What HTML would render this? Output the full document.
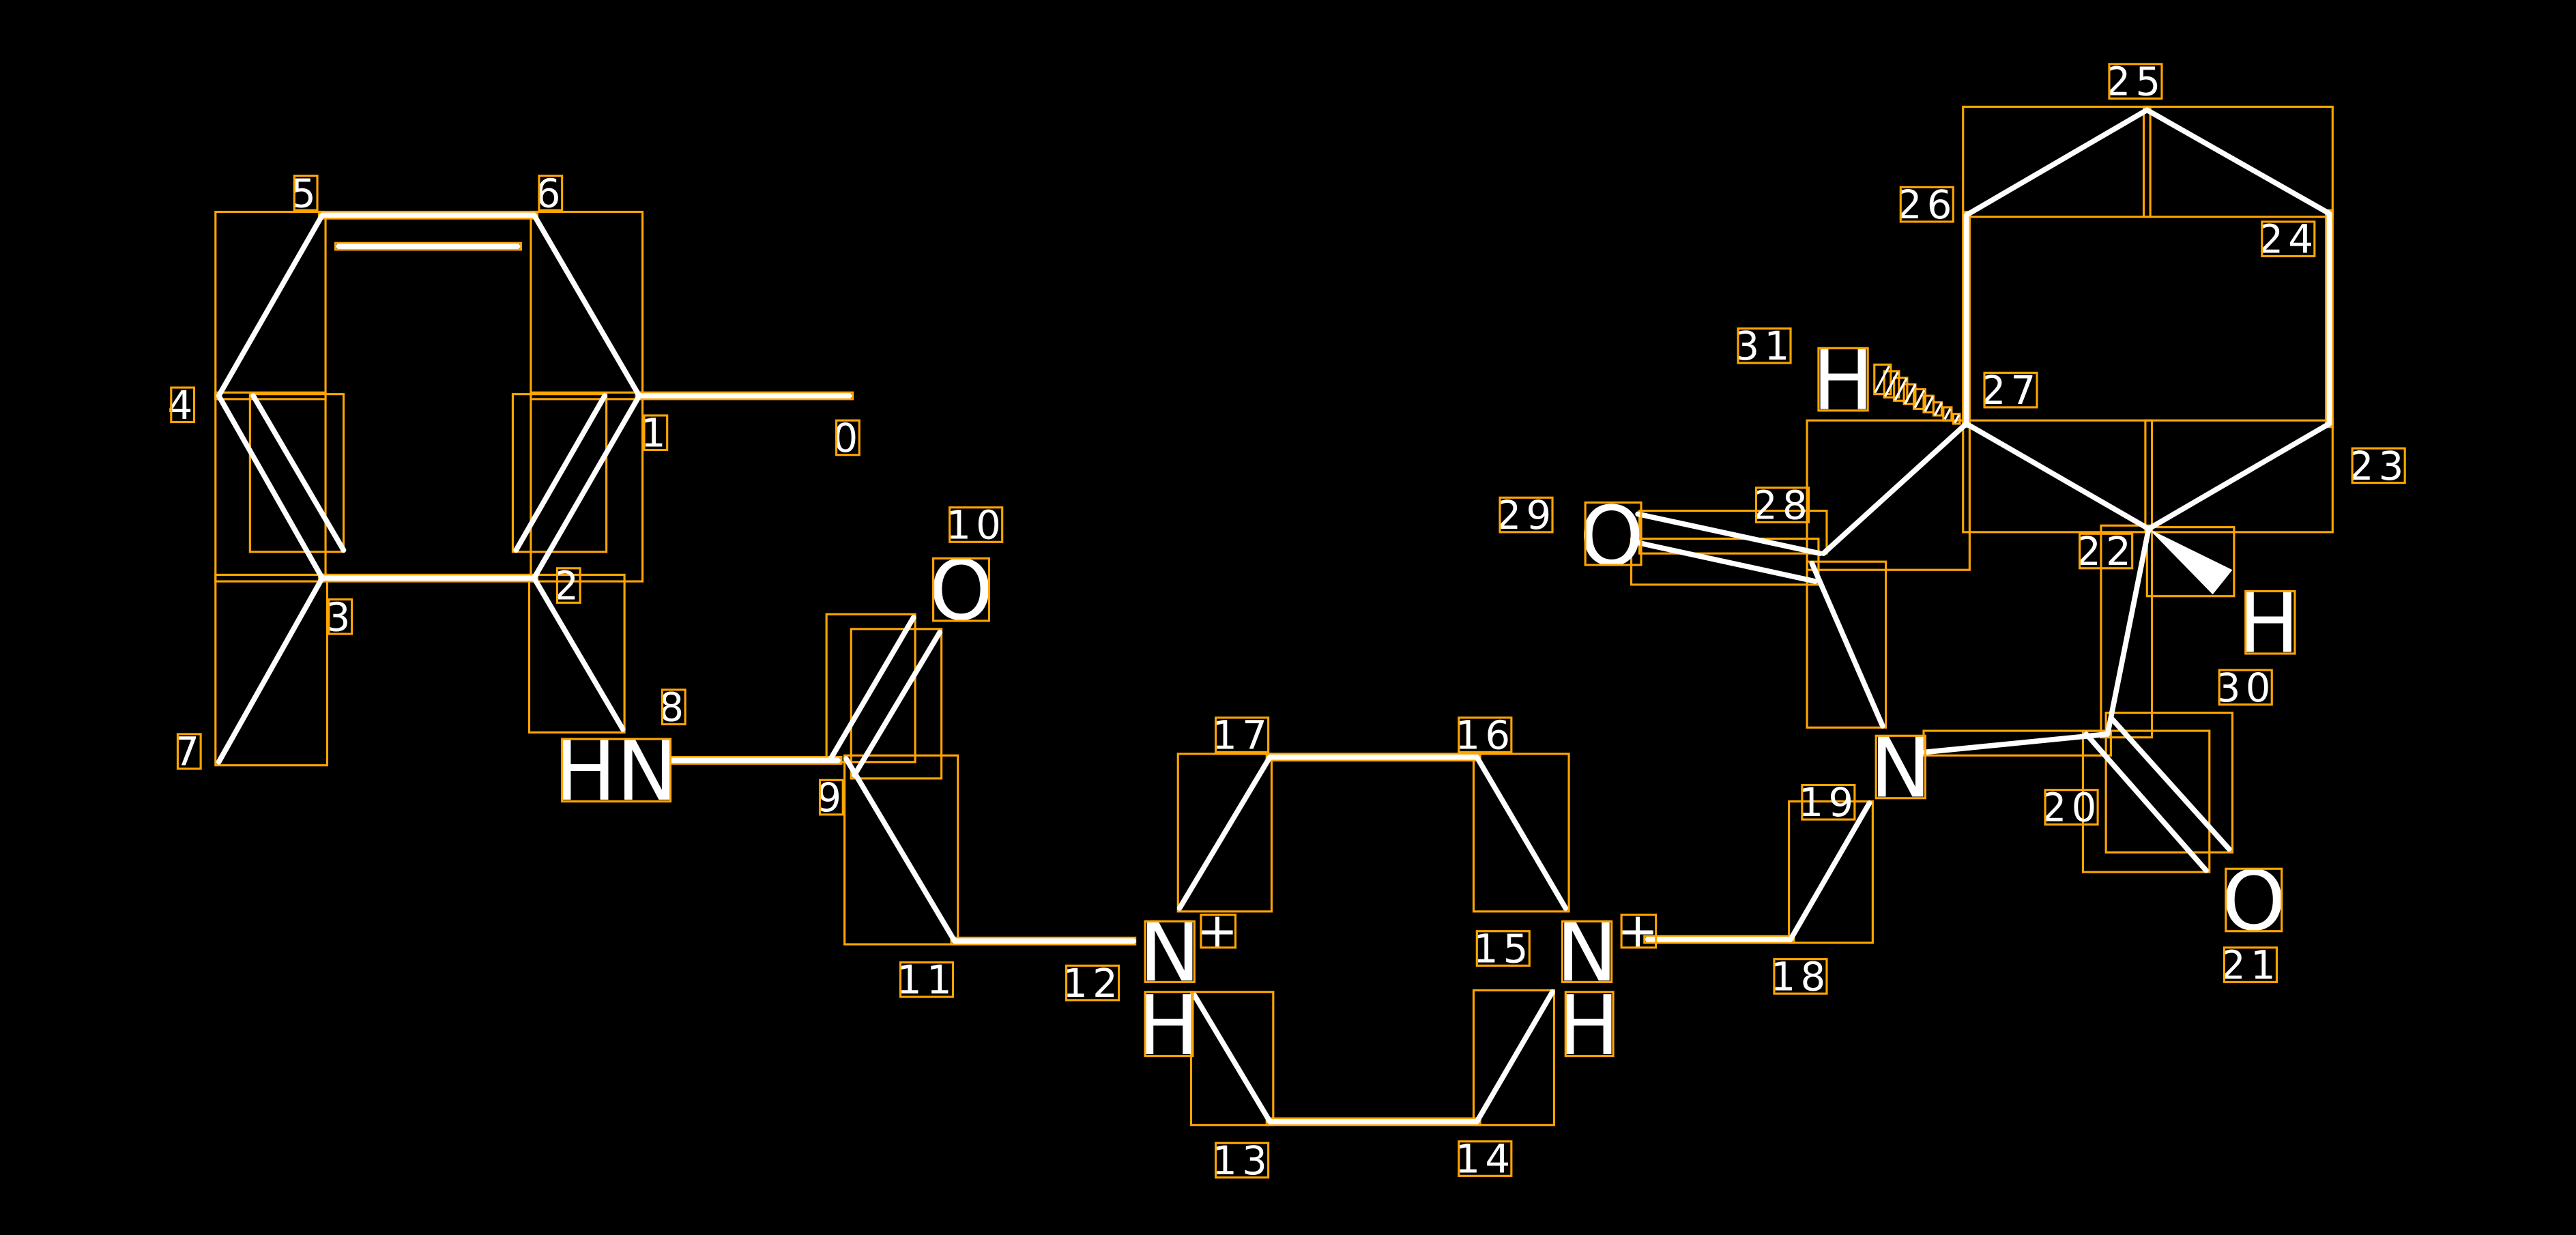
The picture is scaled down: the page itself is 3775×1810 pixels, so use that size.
<!DOCTYPE html>
<html><head><meta charset="utf-8"><style>
html,body{margin:0;padding:0;background:#000;}
svg{display:block;}
.b{stroke:#fff;stroke-width:3.2;stroke-linecap:round;}
.h{stroke:#fff;stroke-width:1.4;}
.o{fill:none;stroke:#FFA500;stroke-width:1.3;}
.a{fill:#fff;font-family:"DejaVu Sans","Liberation Sans",sans-serif;font-size:50px;text-anchor:middle;}
.i{fill:#fff;font-family:"DejaVu Sans","Liberation Sans",sans-serif;font-size:24px;text-anchor:middle;letter-spacing:3px;}
</style></head><body>
<svg width="3775" height="1810" viewBox="0 0 1568 752" xmlns="http://www.w3.org/2000/svg">
<rect width="1568" height="752" fill="#000"/>
<g class="o">
<rect x="387" y="239" width="132" height="4"/>
<rect x="323" y="129" width="68" height="114"/>
<rect x="194" y="129" width="133" height="4"/>
<rect x="204" y="148" width="113" height="4"/>
<rect x="131" y="129" width="67" height="114"/>
<rect x="131" y="239" width="67" height="115"/>
<rect x="152" y="240" width="57" height="96"/>
<rect x="194" y="350" width="133" height="4"/>
<rect x="323" y="239" width="68" height="115"/>
<rect x="312" y="240" width="57" height="96"/>
<rect x="131" y="350" width="68" height="116"/>
<rect x="322" y="350" width="58" height="96"/>
<rect x="405" y="461" width="107" height="4"/>
<rect x="503" y="374" width="54" height="90"/>
<rect x="518" y="383" width="55" height="91"/>
<rect x="514" y="460" width="69" height="115"/>
<rect x="579" y="571" width="112" height="4"/>
<rect x="717" y="459" width="57" height="96"/>
<rect x="771" y="459" width="130" height="4"/>
<rect x="897" y="459" width="58" height="96"/>
<rect x="725" y="604" width="50" height="81"/>
<rect x="771" y="681" width="130" height="4"/>
<rect x="897" y="603" width="49" height="82"/>
<rect x="1001" y="570" width="91" height="4"/>
<rect x="1089" y="488" width="51" height="86"/>
<rect x="1171" y="445" width="114" height="15"/>
<rect x="1268" y="445" width="77" height="86"/>
<rect x="1282" y="434" width="77" height="85"/>
<rect x="1279" y="320" width="31" height="129"/>
<rect x="1307" y="321" width="53" height="42"/>
<rect x="1306" y="256" width="114" height="68"/>
<rect x="1416" y="128" width="4" height="132"/>
<rect x="1305" y="65" width="115" height="67"/>
<rect x="1195" y="65" width="114" height="67"/>
<rect x="1195" y="129" width="4" height="131"/>
<rect x="1195" y="256" width="115" height="68"/>
<rect x="1100" y="256" width="99" height="91"/>
<rect x="998" y="311" width="114" height="26"/>
<rect x="993" y="328" width="114" height="28"/>
<rect x="1100" y="342" width="48" height="101"/>
<rect x="1189" y="252" width="4" height="6"/>
<rect x="1183" y="248" width="5" height="8"/>
<rect x="1177" y="245" width="5" height="8"/>
<rect x="1171" y="241" width="6" height="10"/>
<rect x="1165" y="237" width="7" height="12"/>
<rect x="1159" y="234" width="7" height="12"/>
<rect x="1153" y="230" width="8" height="14"/>
<rect x="1147" y="226" width="9" height="16"/>
<rect x="1141" y="222" width="10" height="18"/>
</g>
<g class="b">
<line x1="389" y1="241" x2="517" y2="241"/>
<line x1="389" y1="241" x2="325" y2="131"/>
<line x1="325" y1="131" x2="196" y2="131"/>
<line x1="206" y1="150" x2="315" y2="150"/>
<line x1="196" y1="131" x2="133" y2="241"/>
<line x1="133" y1="241" x2="196" y2="352"/>
<line x1="154" y1="241" x2="209" y2="335"/>
<line x1="196" y1="352" x2="325" y2="352"/>
<line x1="325" y1="352" x2="389" y2="241"/>
<line x1="368" y1="241" x2="314" y2="335"/>
<line x1="196" y1="352" x2="133" y2="464"/>
<line x1="325" y1="352" x2="379" y2="444"/>
<line x1="407" y1="463" x2="510" y2="463"/>
<line x1="505" y1="463" x2="556" y2="376"/>
<line x1="520" y1="472" x2="572" y2="385"/>
<line x1="515" y1="462" x2="581" y2="573"/>
<line x1="581" y1="573" x2="690" y2="573"/>
<line x1="773" y1="461" x2="718" y2="553"/>
<line x1="773" y1="461" x2="899" y2="461"/>
<line x1="899" y1="461" x2="953" y2="553"/>
<line x1="727" y1="606" x2="773" y2="683"/>
<line x1="773" y1="683" x2="899" y2="683"/>
<line x1="899" y1="683" x2="945" y2="604"/>
<line x1="1003" y1="572" x2="1090" y2="572"/>
<line x1="1090" y1="572" x2="1138" y2="489"/>
<line x1="1172" y1="458" x2="1283" y2="447"/>
<line x1="1270" y1="447" x2="1343" y2="530"/>
<line x1="1285" y1="437" x2="1357" y2="517"/>
<line x1="1283" y1="447" x2="1308" y2="322"/>
<line x1="1308" y1="322" x2="1418" y2="258"/>
<line x1="1418" y1="258" x2="1418" y2="130"/>
<line x1="1418" y1="130" x2="1307" y2="67"/>
<line x1="1307" y1="67" x2="1197" y2="131"/>
<line x1="1197" y1="131" x2="1197" y2="258"/>
<line x1="1197" y1="258" x2="1308" y2="322"/>
<line x1="1197" y1="258" x2="1110" y2="337"/>
<line x1="997" y1="313" x2="1108" y2="337"/>
<line x1="995" y1="330" x2="1105" y2="354"/>
<line x1="1103" y1="343" x2="1146" y2="442"/>
</g>
<polygon points="1308,322 1359,347 1347,362" fill="#fff"/>
<g class="h">
<line x1="1190" y1="257.5" x2="1192.6" y2="252.5"/>
<line x1="1183.9" y1="255.2" x2="1187.3" y2="248.8"/>
<line x1="1177.8" y1="252.9" x2="1182" y2="245.1"/>
<line x1="1171.8" y1="250.6" x2="1176.6" y2="241.4"/>
<line x1="1165.7" y1="248.3" x2="1171.3" y2="237.7"/>
<line x1="1159.6" y1="246" x2="1166" y2="234"/>
<line x1="1153.6" y1="243.7" x2="1160.6" y2="230.3"/>
<line x1="1147.5" y1="241.4" x2="1155.3" y2="226.6"/>
<line x1="1141.4" y1="239.1" x2="1150" y2="222.9"/>
</g>
<g class="a">
<text x="375" y="487">HN</text>
<text x="585" y="377">O</text>
<text x="712" y="597">N</text>
<text x="741" y="577" style="font-size:30px">+</text>
<text x="711" y="642">H</text>
<text x="966" y="597">N</text>
<text x="997" y="577" style="font-size:30px">+</text>
<text x="967" y="642">H</text>
<text x="1157" y="485">N</text>
<text x="981" y="344">O</text>
<text x="1122" y="249">H</text>
<text x="1381" y="397">H</text>
<text x="1372" y="566">O</text>
</g>
<g class="o">
<rect x="342" y="450" width="66" height="38"/>
<rect x="568" y="340" width="34" height="38"/>
<rect x="697" y="561" width="30" height="37"/>
<rect x="731" y="557" width="21" height="20"/>
<rect x="697" y="604" width="29" height="39"/>
<rect x="951" y="561" width="30" height="37"/>
<rect x="987" y="557" width="21" height="20"/>
<rect x="953" y="604" width="29" height="39"/>
<rect x="1142" y="448" width="30" height="38"/>
<rect x="965" y="306" width="34" height="38"/>
<rect x="1107" y="212" width="30" height="38"/>
<rect x="1367" y="360" width="30" height="38"/>
<rect x="1355" y="529" width="34" height="38"/>
</g>
<g class="i">
<text x="516" y="275">0</text><text x="399" y="272">1</text><text x="346" y="365">2</text>
<text x="207" y="384">3</text><text x="111" y="255">4</text><text x="186" y="126">5</text>
<text x="335" y="126">6</text><text x="115" y="466">7</text><text x="410" y="439">8</text>
<text x="506" y="494">9</text><text x="594" y="328">10</text><text x="564" y="605">11</text>
<text x="665" y="607">12</text><text x="756" y="715">13</text><text x="904" y="714">14</text>
<text x="915" y="586">15</text><text x="904" y="456">16</text><text x="756" y="456">17</text>
<text x="1096" y="603">18</text><text x="1113" y="497">19</text><text x="1261" y="500">20</text>
<text x="1370" y="596">21</text><text x="1282" y="344">22</text><text x="1448" y="292">23</text>
<text x="1393" y="154">24</text><text x="1300" y="58">25</text><text x="1173" y="133">26</text>
<text x="1224" y="246">27</text><text x="1085" y="316">28</text><text x="929" y="322">29</text>
<text x="1367" y="427">30</text><text x="1074" y="219">31</text>
</g>
<g class="o">
<rect x="509" y="256" width="14" height="21"/><rect x="392" y="253" width="14" height="21"/>
<rect x="339" y="346" width="14" height="21"/><rect x="200" y="365" width="14" height="21"/>
<rect x="104" y="236" width="14" height="21"/><rect x="179" y="107" width="14" height="21"/>
<rect x="328" y="107" width="14" height="21"/><rect x="108" y="447" width="14" height="21"/>
<rect x="403" y="420" width="14" height="21"/><rect x="499" y="475" width="14" height="21"/>
<rect x="578" y="309" width="32" height="21"/><rect x="548" y="586" width="32" height="21"/>
<rect x="649" y="588" width="32" height="21"/><rect x="740" y="696" width="32" height="21"/>
<rect x="888" y="695" width="32" height="21"/><rect x="899" y="567" width="32" height="21"/>
<rect x="888" y="437" width="32" height="21"/><rect x="740" y="437" width="32" height="21"/>
<rect x="1080" y="584" width="32" height="21"/><rect x="1097" y="478" width="32" height="21"/>
<rect x="1245" y="481" width="32" height="21"/><rect x="1354" y="577" width="32" height="21"/>
<rect x="1266" y="325" width="32" height="21"/><rect x="1432" y="273" width="32" height="21"/>
<rect x="1377" y="135" width="32" height="21"/><rect x="1284" y="39" width="32" height="21"/>
<rect x="1157" y="114" width="32" height="21"/><rect x="1208" y="227" width="32" height="21"/>
<rect x="1069" y="297" width="32" height="21"/><rect x="913" y="303" width="32" height="21"/>
<rect x="1351" y="408" width="32" height="21"/><rect x="1058" y="200" width="32" height="21"/>
</g>
</svg>
</body></html>
